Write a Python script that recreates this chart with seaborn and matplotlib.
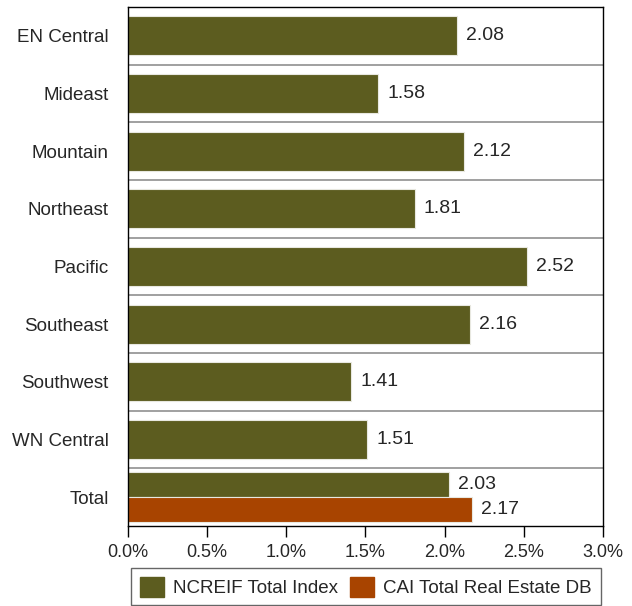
import pandas as pd
import matplotlib.pyplot as plt
import seaborn as sns

categories = ['EN Central', 'Mideast', 'Mountain', 'Northeast', 'Pacific',
              'Southeast', 'Southwest', 'WN Central', 'Total']
regions = categories[:-1]
region_values = [2.08, 1.58, 2.12, 1.81, 2.52, 2.16, 1.41, 1.51]
series = ['NCREIF Total Index', 'CAI Total Real Estate DB']
total_values = [2.03, 2.17]

olive = '#5c5c1f'
orange = '#a84400'


def main():
    sns.set_style('white')
    plt.rcParams['font.family'] = ['Liberation Sans', 'DejaVu Sans']

    fig = plt.figure(figsize=(6.32, 6.06), dpi=100)
    ax = fig.add_axes([0.2025, 0.132, 0.7515, 0.8564])

    # regional bars (NCREIF only)
    sns.barplot(x=region_values, y=regions, order=categories, color=olive,
                saturation=1, width=0.68, edgecolor='#e8e8e0', linewidth=0.8, ax=ax)

    # total row: both series side by side
    total_df = pd.DataFrame({'cat': ['Total', 'Total'], 'series': series,
                             'value': total_values})
    sns.barplot(data=total_df, x='value', y='cat', hue='series', order=categories,
                hue_order=series, palette=[olive, orange], saturation=1,
                width=0.86, dodge=True, edgecolor='#e8e8e0', linewidth=0.8, ax=ax)

    for c in ax.containers:
        ax.bar_label(c, fmt='%.2f', padding=6.5, fontsize=14)

    ax.set_xlim(0, 3.0)
    ax.set_ylim(8.5, -0.5)
    ticks = [0, 0.5, 1.0, 1.5, 2.0, 2.5, 3.0]
    ax.set_xticks(ticks)
    ax.set_xticklabels([f'{v:.1f}%' for v in ticks], fontsize=13)
    ax.tick_params(axis='x', direction='out', length=8, width=1, color='black',
                   bottom=True, pad=5)
    ax.tick_params(axis='y', length=0, labelsize=13.5, pad=14)
    ax.set_xlabel('')
    ax.set_ylabel('')

    for y in [i + 0.5 for i in range(8)]:
        ax.axhline(y, color='#909090', linewidth=1.2, zorder=0)

    for s in ax.spines.values():
        s.set_color('black')
        s.set_linewidth(1)

    ax.get_legend().remove()
    fig.legend(handles=[plt.Rectangle((0, 0), 1, 1, color=olive),
                        plt.Rectangle((0, 0), 1, 1, color=orange)],
               labels=series, loc='upper center', bbox_to_anchor=(0.579, 0.078),
               ncol=2, fontsize=13.5, frameon=True, fancybox=False,
               edgecolor='#404040', handlelength=1.3, handleheight=1.3,
               columnspacing=0.6, handletextpad=0.5, borderpad=0.45)

    fig.savefig('out.png', dpi=100)


main()
